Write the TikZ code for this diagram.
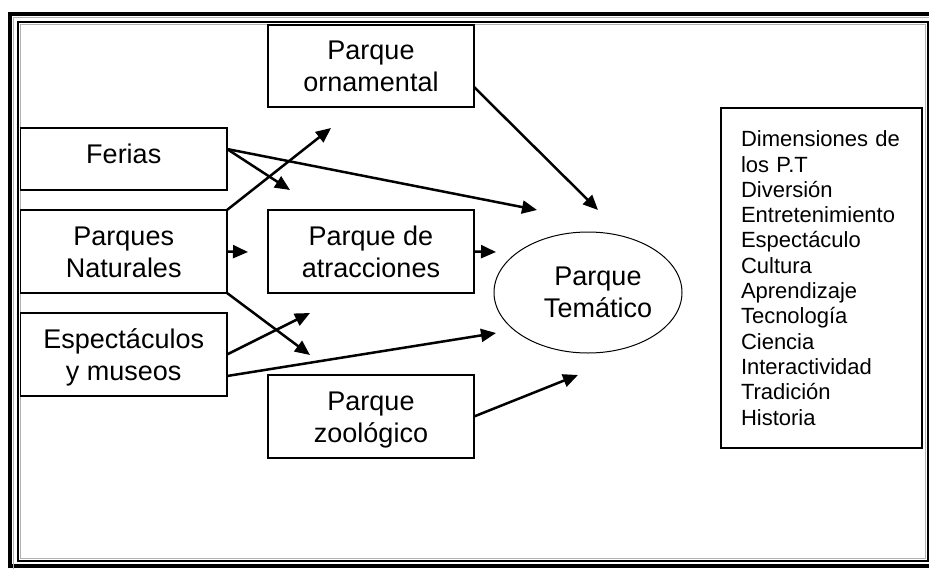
\documentclass[tikz,border=0pt]{standalone}
\usepackage{fontspec}
\setmainfont{Liberation Sans}
\usetikzlibrary{arrows.meta,shapes.geometric}
\newcommand{\capline}[1]{\smash{#1}\rule{0pt}{19.3pt}}
\newcommand{\dimline}[1]{\smash{#1}\rule{0pt}{15.75pt}}
\begin{document}
\begin{tikzpicture}[x=1pt,y=-1pt,
  boxnode/.style={draw, line width=1.2pt, rectangle, inner sep=0pt, outer sep=0pt,
    minimum width=206pt, minimum height=83pt, align=center,
    font=\fontsize{27}{32}\selectfont},
  dimbox/.style={draw, line width=1.2pt, rectangle, inner xsep=20pt, inner ysep=0pt, outer sep=0pt,
    text width=161pt, minimum height=340pt, align=left,
    font=\fontsize{22}{25.3}\selectfont},
  ovalnode/.style={draw, line width=1pt, ellipse, inner sep=0pt, outer sep=0pt,
    minimum width=188pt, minimum height=121pt},
  ovaltext/.style={inner sep=0pt, align=center, font=\fontsize{27}{32}\selectfont},
  arr/.style={line width=2.5pt, -{Triangle[length=15pt,width=13pt]}},
  framethick/.style={line width=4pt},
  framethin/.style={line width=2pt},
  framegray/.style={draw=gray!60, line width=1.1pt}]
\clip (0,0) rectangle (929,568);
\fill[white] (0,0) rectangle (929,568);
% page border
\draw[framethick] (10,14) rectangle (950,566);
\draw[framegray] (950,17.8) -- (13.8,17.8) -- (13.8,575);
\draw[framethin] (18,22) rectangle (927.5,561.3);
\draw[framegray] (20.3,24.4) rectangle (925.4,558.9);
% boxes
\node[boxnode, minimum height=82pt] (orn) at (371,66) {\capline{Parque}\\\capline{ornamental}};
\node[boxnode, minimum width=206.5pt, minimum height=62pt, text height=19.3pt, text depth=11.3pt] (fer) at (123.75,159) {Ferias};
\node[boxnode, minimum width=206.5pt] (nat) at (123.75,251.5) {\capline{Parques}\\\capline{Naturales}};
\node[boxnode, minimum width=206.5pt] (esp) at (123.75,354.5) {\capline{Espectáculos}\\\capline{y museos}};
\node[boxnode] (atr) at (371,251.5) {\capline{Parque de}\\\capline{atracciones}};
\node[boxnode] (zoo) at (371,416.5) {\capline{Parque}\\\capline{zoológico}};
\node[ovalnode] (pt) at (588,292.5) {};
\node[ovaltext] (ptt) at (598,292) {\capline{Parque}\\\capline{Temático}};
\node[dimbox] (dim) at (821.5,278) {\dimline{Dimensiones de}\\\dimline{los P.T}\\\dimline{Diversión}\\\dimline{Entretenimiento}\\\dimline{Espectáculo}\\\dimline{Cultura}\\\dimline{Aprendizaje}\\\dimline{Tecnología}\\\dimline{Ciencia}\\\dimline{Interactividad}\\\dimline{Tradición}\\\dimline{Historia}};
% arrow end points
\coordinate (t1) at (290,190);
\coordinate (t2) at (537,210);
\coordinate (t3) at (331,128);
\coordinate (t4) at (248,252);
\coordinate (t5) at (496,252);
\coordinate (t6) at (598,210);
\coordinate (t7) at (310,355);
\coordinate (t8) at (310,313);
\coordinate (t9) at (496,333);
\coordinate (t10) at (578,375);
% arrows
\draw[arr] ([yshift=10pt]fer.east) -- (t1);
\draw[arr] ([yshift=10pt]fer.east) -- (t2);
\draw[arr] (nat.north east) -- (t3);
\draw[arr] (nat.east) -- (t4);
\draw[arr] (atr.east) -- (t5);
\draw[arr] ([yshift=-21pt]orn.east) -- (t6);
\draw[arr] (nat.south east) -- (t7);
\draw[arr] (esp.east) -- (t8);
\draw[arr] ([yshift=-21.5pt]esp.east) -- (t9);
\draw[arr] (zoo.east) -- (t10);
\end{tikzpicture}
\end{document}
